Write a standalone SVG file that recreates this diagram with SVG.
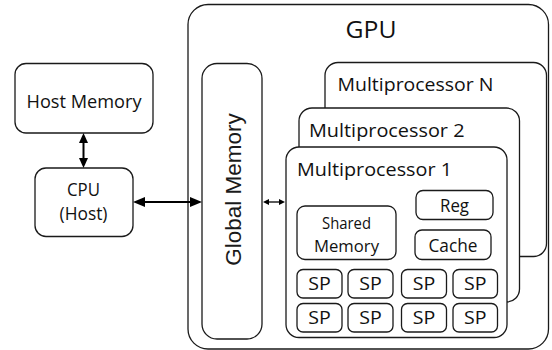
<svg xmlns="http://www.w3.org/2000/svg" width="552" height="350" viewBox="0 0 552 350">
<style>
.box{fill:#fff;stroke:#1a1a1a;stroke-width:1.3}
.t{font-family:"Open Sans","Liberation Sans",sans-serif;fill:#111;text-anchor:middle}
.tl{font-family:"Open Sans","Liberation Sans",sans-serif;fill:#111;text-anchor:start}
.c{stroke:#000;fill:none}
</style>
<defs>
<marker id="big" viewBox="0 0 12 10" markerWidth="12" markerHeight="10" refX="8" refY="5" orient="auto-start-reverse" markerUnits="userSpaceOnUse"><path d="M0,0L12,5L0,10z" fill="#000"/></marker>
<marker id="mid" viewBox="0 0 10 9" markerWidth="10" markerHeight="9" refX="6" refY="4.5" orient="auto-start-reverse" markerUnits="userSpaceOnUse"><path d="M0,0L10,4.5L0,9z" fill="#000"/></marker>
<marker id="sm" viewBox="0 0 6 6" markerWidth="6" markerHeight="6" refX="4" refY="3" orient="auto-start-reverse" markerUnits="userSpaceOnUse"><path d="M0,0L6,3L0,6z" fill="#000"/></marker>
</defs>
<rect width="552" height="350" fill="#fff"/>

<g id="gpu">
<rect class="box" x="188" y="4.5" width="360.5" height="344.5" rx="20"/>
<text class="t" x="371" y="37.5" font-size="23" textLength="51" lengthAdjust="spacingAndGlyphs">GPU</text>
</g>

<g id="host-memory">
<rect class="box" x="15" y="63.5" width="138" height="69.5" rx="11"/>
<text class="t" x="84" y="107.5" font-size="18" textLength="115" lengthAdjust="spacingAndGlyphs">Host Memory</text>
</g>

<g id="cpu">
<rect class="box" x="35" y="168" width="98" height="68.5" rx="11"/>
<text class="t" x="83.5" y="196" font-size="18" textLength="33" lengthAdjust="spacingAndGlyphs">CPU</text>
<text class="t" x="83.5" y="220" font-size="18" textLength="48" lengthAdjust="spacingAndGlyphs">(Host)</text>
</g>

<g id="global-memory">
<rect class="box" x="202" y="63.5" width="60" height="275.5" rx="15"/>
<text transform="translate(241,189.5) rotate(-90)" x="0" y="0" font-family="'Liberation Sans',Arial,sans-serif" font-size="22.5" fill="#1a1a1a" text-anchor="middle">Global Memory</text>
</g>

<g id="multiprocessor-n">
<rect class="box" x="325" y="62.5" width="221.5" height="194" rx="13"/>
<text class="tl" x="337.5" y="90.7" font-size="18.5" textLength="156" lengthAdjust="spacingAndGlyphs">Multiprocessor N</text>
</g>

<g id="multiprocessor-2">
<rect class="box" x="299" y="108" width="220.5" height="194" rx="13"/>
<text class="tl" x="309" y="136.5" font-size="18.5" textLength="155.5" lengthAdjust="spacingAndGlyphs">Multiprocessor 2</text>
</g>

<g id="multiprocessor-1">
<rect class="box" x="286" y="147" width="221" height="190.5" rx="13"/>
<text class="tl" x="297" y="175.5" font-size="18.5" textLength="155" lengthAdjust="spacingAndGlyphs">Multiprocessor 1</text>
</g>

<g id="shared-memory">
<rect class="box" x="297" y="206" width="99" height="53.5" rx="8"/>
<text class="t" x="346.5" y="229" font-size="16" textLength="49" lengthAdjust="spacingAndGlyphs">Shared</text>
<text class="t" x="346.5" y="251.5" font-size="16" textLength="65" lengthAdjust="spacingAndGlyphs">Memory</text>
</g>

<g id="reg">
<rect class="box" x="416" y="190.5" width="77" height="29" rx="7"/>
<text class="t" x="454.5" y="212" font-size="17.5" textLength="29" lengthAdjust="spacingAndGlyphs">Reg</text>
</g>

<g id="cache">
<rect class="box" x="415" y="230" width="76" height="29.5" rx="7"/>
<text class="t" x="453" y="251.5" font-size="17.5" textLength="49" lengthAdjust="spacingAndGlyphs">Cache</text>
</g>

<g id="sp-1-1"><rect class="box" x="297" y="269.5" width="45" height="28.5" rx="6"/><text class="t" x="319.5" y="290" font-size="17.5" textLength="22.5" lengthAdjust="spacingAndGlyphs">SP</text></g>
<g id="sp-1-2"><rect class="box" x="348" y="269.5" width="45" height="28.5" rx="6"/><text class="t" x="370.5" y="290" font-size="17.5" textLength="22.5" lengthAdjust="spacingAndGlyphs">SP</text></g>
<g id="sp-1-3"><rect class="box" x="401.5" y="269.5" width="45" height="28.5" rx="6"/><text class="t" x="424" y="290" font-size="17.5" textLength="22.5" lengthAdjust="spacingAndGlyphs">SP</text></g>
<g id="sp-1-4"><rect class="box" x="453" y="269.5" width="44.5" height="28.5" rx="6"/><text class="t" x="475.3" y="290" font-size="17.5" textLength="22.5" lengthAdjust="spacingAndGlyphs">SP</text></g>
<g id="sp-2-1"><rect class="box" x="297" y="303.5" width="45" height="28.5" rx="6"/><text class="t" x="319.5" y="324" font-size="17.5" textLength="22.5" lengthAdjust="spacingAndGlyphs">SP</text></g>
<g id="sp-2-2"><rect class="box" x="348" y="303.5" width="45" height="28.5" rx="6"/><text class="t" x="370.5" y="324" font-size="17.5" textLength="22.5" lengthAdjust="spacingAndGlyphs">SP</text></g>
<g id="sp-2-3"><rect class="box" x="401.5" y="303.5" width="45" height="28.5" rx="6"/><text class="t" x="424" y="324" font-size="17.5" textLength="22.5" lengthAdjust="spacingAndGlyphs">SP</text></g>
<g id="sp-2-4"><rect class="box" x="453" y="303.5" width="44.5" height="28.5" rx="6"/><text class="t" x="475.3" y="324" font-size="17.5" textLength="22.5" lengthAdjust="spacingAndGlyphs">SP</text></g>

<g id="connectors">
<line class="c" x1="83.5" y1="137" x2="83.5" y2="164" stroke-width="2" marker-start="url(#mid)" marker-end="url(#mid)"/>
<line class="c" x1="137" y1="202" x2="198" y2="202" stroke-width="2" marker-start="url(#big)" marker-end="url(#big)"/>
<line class="c" x1="265" y1="202" x2="283" y2="202" stroke-width="1.3" marker-start="url(#sm)" marker-end="url(#sm)"/>
</g>
</svg>
